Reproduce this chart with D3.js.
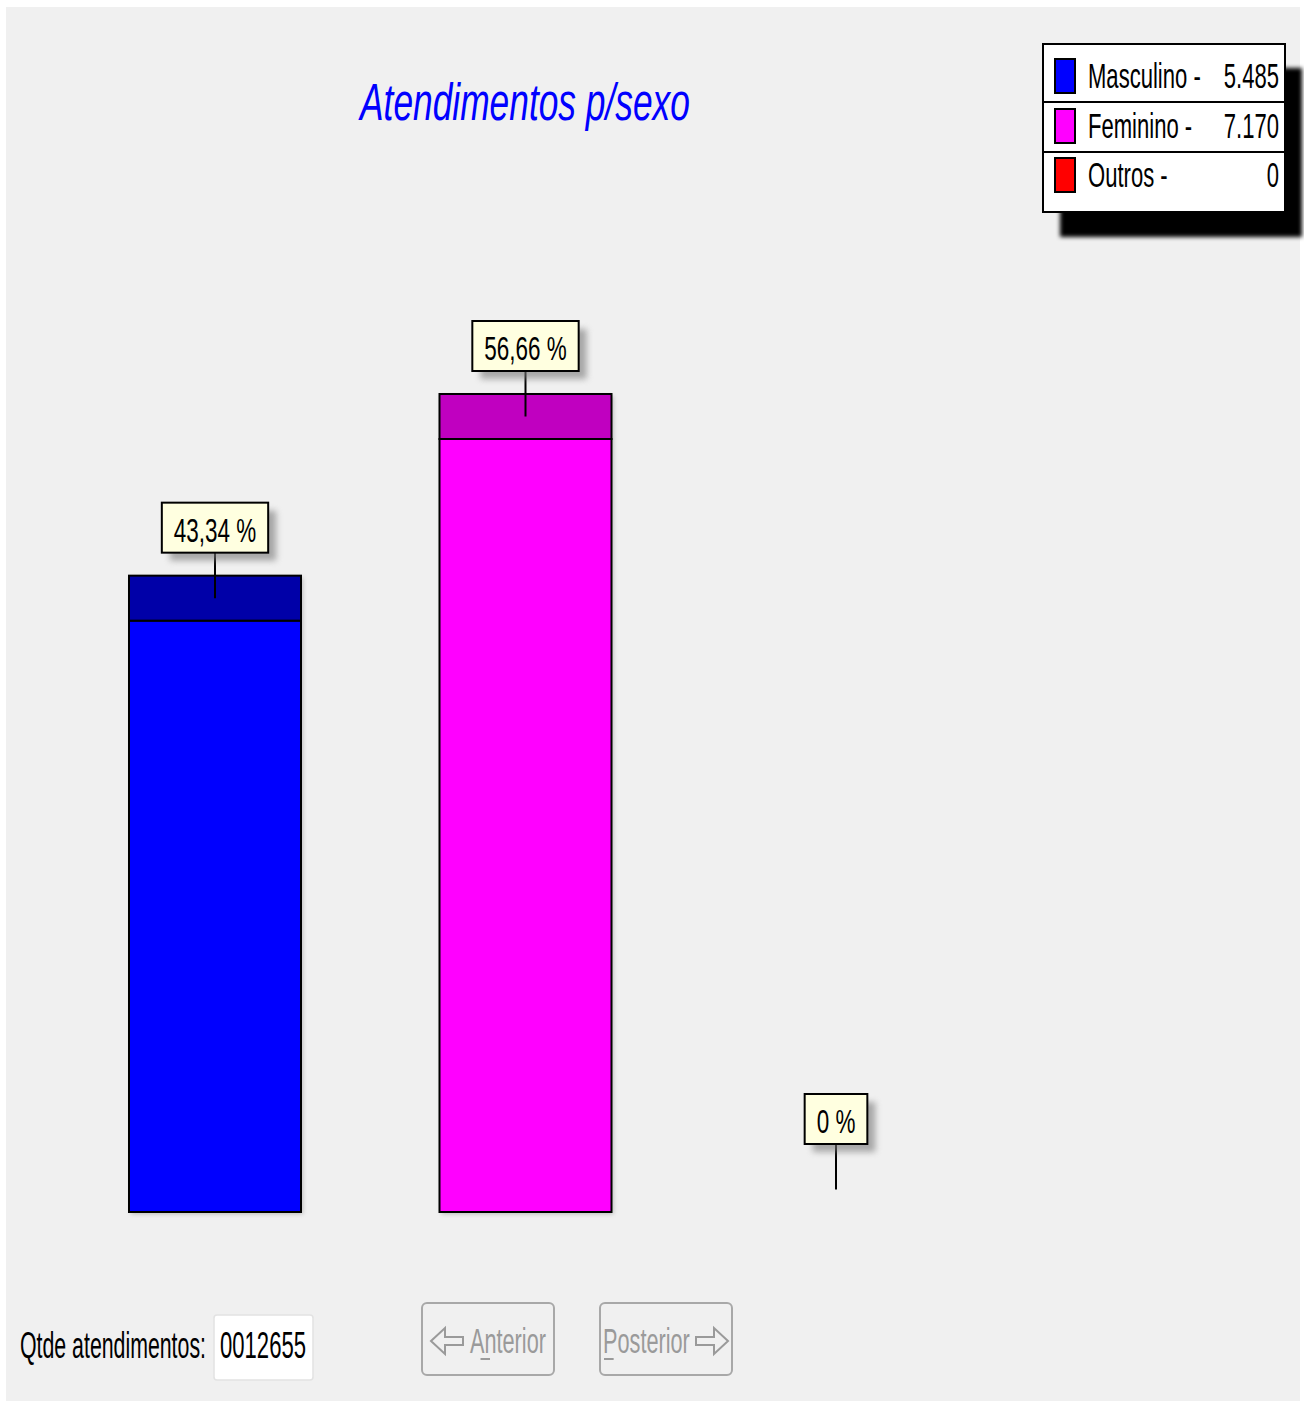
<!DOCTYPE html>
<html><head><meta charset="utf-8">
<script src="https://cdn.jsdelivr.net/npm/d3@7"></script>
<style>body{margin:0;background:#fff}svg{display:block}</style>
</head><body>
<script>
const categories = ["Masculino", "Feminino", "Outros"];
const values = [5485, 7170, 0];
const seriesColors = ["#0000ff", "#ff00ff", "#ff0000"];
const topColors = ["#0000a8", "#c000c0", "#a80000"];
const titleText = "Atendimentos p/sexo";
const totalLabel = "Qtde atendimentos:";
const buttonLabels = ["Anterior", "Posterior"];

const total = d3.sum(values);
const W = 1304, H = 1407;
const svg = d3.select("body").append("svg").attr("width", W).attr("height", H);
const defs = svg.append("defs");
const f1 = defs.append("filter").attr("id","sh").attr("x","-20%").attr("y","-20%").attr("width","150%").attr("height","160%");
f1.append("feGaussianBlur").attr("stdDeviation", 3);
const f2 = defs.append("filter").attr("id","sh2").attr("x","-20%").attr("y","-20%").attr("width","140%").attr("height","140%");
f2.append("feGaussianBlur").attr("stdDeviation", 2);

svg.append("rect").attr("x",6).attr("y",7).attr("width",1294).attr("height",1394).attr("fill","#f0f0f0");

const FONT = "'Liberation Sans', Arial, sans-serif";
// draws horizontally condensed text; returns displayed width
function ctext(parent, x, y, str, opts){
  const g = parent.append("g");
  const t = g.append("text").attr("x",0).attr("y",0).attr("font-family",FONT)
    .attr("font-size",opts.size).attr("fill",opts.fill||"#000")
    .attr("text-anchor",opts.anchor||"start").text(str);
  if (opts.italic) t.attr("font-style","italic");
  const w = t.node().getComputedTextLength();
  const sx = opts.width ? opts.width / w : opts.factor;
  g.attr("transform",`translate(${x},${y}) scale(${sx},1)`);
  return w*sx;
}

// title
ctext(svg, 360, 120, titleText, {size:51, fill:"#0000ff", italic:true, width:330});

// scales
const x = d3.scalePoint().domain(categories).range([215, 836]);
const y = d3.scaleLinear().domain([0, d3.max(values)]).range([1212, 439]);
const barW = 172, depth = 45;
const data = categories.map((c,i)=>({c, v:values[i], i}));

const bars = svg.append("g");
const shown = data.filter(d=>d.v>0);
bars.selectAll("rect.sh").data(shown).join("rect")
  .attr("x",d=>x(d.c)-barW/2+2).attr("y",d=>y(d.v)-depth+2).attr("width",barW).attr("height",d=>y(0)-y(d.v)+depth)
  .attr("fill","#888").attr("opacity",0.5).attr("filter","url(#sh2)");
bars.selectAll("rect.front").data(shown).join("rect")
  .attr("x",d=>x(d.c)-barW/2).attr("y",d=>y(d.v)).attr("width",barW).attr("height",d=>y(0)-y(d.v))
  .attr("fill",d=>seriesColors[d.i]).attr("stroke","#000").attr("stroke-width",2);
bars.selectAll("rect.top").data(shown).join("rect")
  .attr("x",d=>x(d.c)-barW/2).attr("y",d=>y(d.v)-depth).attr("width",barW).attr("height",depth)
  .attr("fill",d=>topColors[d.i]).attr("stroke","#000").attr("stroke-width",2);

// labels
const fmt = v => { const p = v/total*100; return p===0 ? "0 %" : p.toFixed(2).replace(".", ",") + " %"; };
const lab = svg.append("g").selectAll("g").data(data).join("g");
lab.each(function(d){
  const g = d3.select(this);
  const cx = x(d.c);
  const topY = y(d.v) - depth;
  const boxB = topY - 23, boxT = boxB - 50;
  g.append("line").attr("x1",cx).attr("x2",cx).attr("y1",boxB).attr("y2",topY+depth/2).attr("stroke","#000").attr("stroke-width",2);
  const sh = g.append("rect"), bx = g.append("rect");
  const tw = ctext(g, cx, boxB-11, fmt(d.v), {size:34, anchor:"middle", factor:0.66});
  const bw = tw + 24;
  sh.attr("x",cx-bw/2+8).attr("y",boxT+8).attr("width",bw).attr("height",50).attr("fill","#777").attr("opacity",0.6).attr("filter","url(#sh)");
  bx.attr("x",cx-bw/2).attr("y",boxT).attr("width",bw).attr("height",50).attr("fill","#ffffe0").attr("stroke","#000").attr("stroke-width",2);
});

// legend
const lg = svg.append("g");
lg.append("rect").attr("x",1060).attr("y",68).attr("width",242).attr("height",169).attr("fill","#000").attr("filter","url(#sh2)");
lg.append("rect").attr("x",1043).attr("y",44).attr("width",242).attr("height",168).attr("fill","#fff").attr("stroke","#000").attr("stroke-width",2);
[102,152].forEach(yy=>lg.append("line").attr("x1",1043).attr("x2",1285).attr("y1",yy).attr("y2",yy).attr("stroke","#000").attr("stroke-width",2));
const rowsY = [59, 109, 158];
const fmtN = d3.formatLocale({decimal:",", thousands:".", grouping:[3], currency:["",""]}).format(",d");
data.forEach((d,i)=>{
  lg.append("rect").attr("x",1055).attr("y",rowsY[i]).attr("width",20).attr("height",34).attr("fill",seriesColors[i]).attr("stroke","#000").attr("stroke-width",2);
  ctext(lg, 1088, rowsY[i]+29, d.c + " -", {size:35, factor:0.63});
  ctext(lg, 1279, rowsY[i]+29, fmtN(d.v), {size:35, anchor:"end", factor:0.63});
});

// bottom controls
ctext(svg, 20, 1358, totalLabel, {size:37, width:186});
svg.append("rect").attr("x",214).attr("y",1315).attr("width",99).attr("height",65).attr("rx",3).attr("fill","#fff").attr("stroke","#e2e2e2").attr("stroke-width",1.5);
ctext(svg, 220, 1358, String(total).padStart(7,"0"), {size:37, width:86});

function button(x0, label, arrowLeft, ul){
  const g = svg.append("g");
  g.append("rect").attr("x",x0).attr("y",1303).attr("width",132).attr("height",72).attr("rx",5).attr("fill","#f0f0f0").attr("stroke","#a8a8a8").attr("stroke-width",2);
  const cy = 1341;
  const arrow = (ax, left) => {
    const s = left ? 1 : -1, tip = left ? ax : ax+32;
    return `M${tip},${cy} L${tip+s*14},${cy-13} L${tip+s*14},${cy-4} L${tip+s*32},${cy-4} L${tip+s*32},${cy+4} L${tip+s*14},${cy+4} L${tip+s*14},${cy+13} Z`;
  };
  let tx, ax;
  if (arrowLeft){ ax = x0+9; tx = x0+48; } else { tx = x0+3; ax = x0+96; }
  g.append("path").attr("d", arrow(ax, arrowLeft)).attr("fill","none").attr("stroke","#9a9a9a").attr("stroke-width",2);
  const tl = ctext(g, tx, 1353, label, {size:35, fill:"#9a9a9a", factor:0.62});
  const cw = tl / label.length;
  g.append("line").attr("x1",tx+ul*cw+1).attr("x2",tx+(ul+1)*cw+1).attr("y1",1359).attr("y2",1359).attr("stroke","#9a9a9a").attr("stroke-width",2);
}
button(422, buttonLabels[0], true, 1);
button(600, buttonLabels[1], false, 0);
</script>
</body></html>
